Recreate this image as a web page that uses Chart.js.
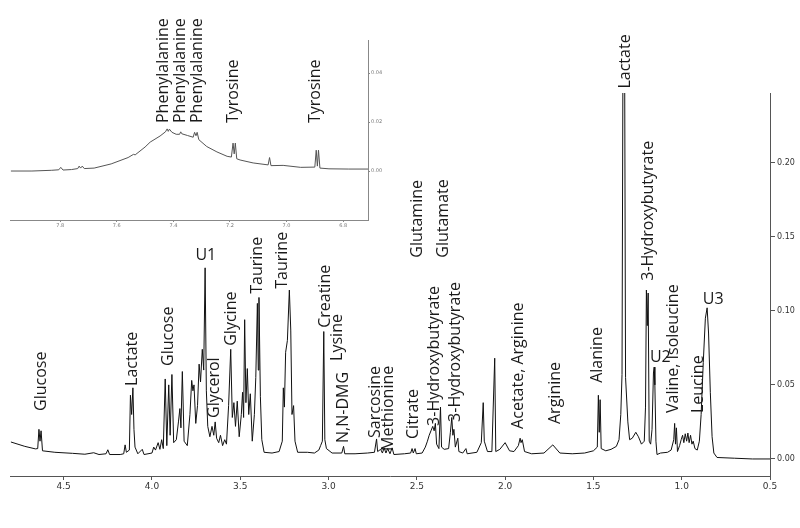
<!DOCTYPE html>
<html>
<head>
<meta charset="utf-8">
<script src="https://cdn.jsdelivr.net/npm/chart.js@4.4.0/dist/chart.umd.min.js"></script>
<style>
  body { margin: 0; background: #fff; }
  #wrap { position: relative; width: 800px; height: 528px; }
  #mainChart { position: absolute; left: 0; top: 0; }
  #insetChart { position: absolute; left: 0; top: 0; }
</style>
</head>
<body>
<div id="wrap">
  <canvas id="mainChart" width="800" height="528"></canvas>
  <canvas id="insetChart" width="390" height="240"></canvas>
</div>
<script>
//DATA - main spectrum (chemical shift ppm / intensity)
var mainShift = [
  4.80, 4.72, 4.66, 4.647, 4.640, 4.634, 4.628, 4.620, 4.55, 4.45, 4.38, 4.33, 4.30, 4.26, 4.25, 4.24,
  4.18, 4.16, 4.152, 4.145, 4.128, 4.122, 4.115, 4.108, 4.102, 4.096, 4.08, 4.055, 4.045, 4.00, 3.99, 3.98,
  3.965, 3.955, 3.945, 3.936, 3.925, 3.916, 3.905, 3.897, 3.887, 3.877, 3.862, 3.850, 3.842, 3.836, 3.828, 3.818,
  3.800, 3.785, 3.775, 3.768, 3.762, 3.752, 3.742, 3.733, 3.725, 3.715, 3.707, 3.699, 3.692, 3.684, 3.672, 3.660,
  3.650, 3.642, 3.634, 3.622, 3.612, 3.600, 3.588, 3.578, 3.566, 3.554, 3.545, 3.536, 3.527, 3.517, 3.506, 3.494,
  3.487, 3.481, 3.475, 3.468, 3.460, 3.452, 3.443, 3.432, 3.420, 3.412, 3.403, 3.398, 3.394, 3.386, 3.378, 3.365,
  3.32, 3.28, 3.262, 3.256, 3.250, 3.243, 3.233, 3.222, 3.214, 3.207, 3.198, 3.190, 3.175, 3.12, 3.08, 3.055,
  3.045, 3.035, 3.027, 3.021, 3.012, 2.98, 2.925, 2.915, 2.908, 2.85, 2.78, 2.74, 2.728, 2.722, 2.705, 2.695,
  2.685, 2.675, 2.665, 2.652, 2.640, 2.630, 2.57, 2.535, 2.527, 2.520, 2.510, 2.503, 2.47, 2.452, 2.440, 2.430,
  2.420, 2.410, 2.402, 2.395, 2.388, 2.375, 2.366, 2.360, 2.345, 2.320, 2.310, 2.302, 2.296, 2.290, 2.282, 2.268,
  2.262, 2.24, 2.222, 2.215, 2.16, 2.135, 2.124, 2.118, 2.10, 2.075, 2.059, 2.053, 2.03, 2.00, 1.975, 1.95,
  1.925, 1.915, 1.910, 1.903, 1.890, 1.85, 1.78, 1.73, 1.69, 1.62, 1.55, 1.50, 1.478, 1.472, 1.467, 1.462,
  1.456, 1.43, 1.40, 1.37, 1.355, 1.345, 1.338, 1.332, 1.328, 1.324, 1.318, 1.305, 1.295, 1.280, 1.260, 1.245,
  1.228, 1.212, 1.205, 1.200, 1.195, 1.190, 1.184, 1.176, 1.168, 1.160, 1.156, 1.152, 1.146, 1.140, 1.12, 1.08,
  1.06, 1.045, 1.040, 1.035, 1.030, 1.024, 1.012, 1.003, 0.995, 0.988, 0.980, 0.972, 0.965, 0.958, 0.950, 0.942,
  0.935, 0.925, 0.912, 0.900, 0.890, 0.878, 0.866, 0.856, 0.848, 0.838, 0.828, 0.818, 0.80, 0.70, 0.60, 0.50
];
var mainIntensity = [
  0.0115, 0.0085, 0.0068, 0.0070, 0.020, 0.012, 0.019, 0.0055, 0.0045, 0.0038, 0.0032, 0.0042, 0.0030, 0.0035, 0.0062, 0.0030,
  0.0030, 0.0035, 0.0095, 0.0045, 0.0060, 0.043, 0.030, 0.048, 0.020, 0.0080, 0.0035, 0.0065, 0.0030, 0.0040, 0.0080, 0.0060,
  0.011, 0.0065, 0.013, 0.0070, 0.054, 0.0090, 0.050, 0.016, 0.057, 0.011, 0.013, 0.025, 0.034, 0.021, 0.059, 0.012,
  0.0090, 0.030, 0.053, 0.046, 0.050, 0.024, 0.036, 0.064, 0.052, 0.074, 0.060, 0.129, 0.046, 0.022, 0.015, 0.022,
  0.016, 0.025, 0.014, 0.011, 0.016, 0.0090, 0.013, 0.010, 0.036, 0.074, 0.028, 0.038, 0.022, 0.039, 0.015, 0.030,
  0.045, 0.028, 0.094, 0.038, 0.061, 0.030, 0.044, 0.012, 0.030, 0.055, 0.105, 0.060, 0.109, 0.042, 0.013, 0.0045,
  0.0040, 0.0050, 0.012, 0.048, 0.035, 0.072, 0.080, 0.114, 0.087, 0.030, 0.036, 0.012, 0.0045, 0.0045, 0.0040, 0.0060,
  0.0090, 0.012, 0.086, 0.013, 0.0070, 0.0040, 0.0040, 0.0085, 0.0035, 0.0035, 0.0040, 0.0045, 0.0135, 0.0050, 0.0065, 0.0040,
  0.0075, 0.0040, 0.0070, 0.0035, 0.0075, 0.0030, 0.0035, 0.0040, 0.0070, 0.0040, 0.0070, 0.0035, 0.0040, 0.0080, 0.012, 0.016,
  0.019, 0.022, 0.019, 0.024, 0.010, 0.0070, 0.035, 0.0080, 0.0065, 0.0070, 0.018, 0.028, 0.016, 0.020, 0.0080, 0.014,
  0.0050, 0.0040, 0.0070, 0.0035, 0.0045, 0.011, 0.038, 0.012, 0.0050, 0.0050, 0.068, 0.0050, 0.0065, 0.011, 0.0055, 0.0050,
  0.0090, 0.014, 0.011, 0.013, 0.0050, 0.0035, 0.0040, 0.0095, 0.0040, 0.0035, 0.0040, 0.0055, 0.0080, 0.043, 0.018, 0.040,
  0.0070, 0.0055, 0.0065, 0.0085, 0.013, 0.030, 0.057, 0.30, 0.26, 0.30, 0.055, 0.025, 0.013, 0.014, 0.018, 0.015,
  0.010, 0.012, 0.035, 0.114, 0.090, 0.112, 0.012, 0.010, 0.020, 0.058, 0.062, 0.050, 0.012, 0.0030, 0.0040, 0.0045,
  0.0060, 0.013, 0.024, 0.010, 0.021, 0.0050, 0.0090, 0.013, 0.016, 0.011, 0.017, 0.012, 0.0175, 0.011, 0.016, 0.010,
  0.012, 0.0070, 0.0060, 0.012, 0.030, 0.065, 0.095, 0.102, 0.085, 0.045, 0.015, 0.0040, 0.0010, 0.0005, 0.0, 0.0
];

//DATA - aromatic inset
var insetShift = [
  7.975, 7.90, 7.83, 7.805, 7.798, 7.790, 7.76, 7.738, 7.733, 7.728, 7.722, 7.715, 7.68, 7.62, 7.56, 7.541,
  7.535, 7.50, 7.482, 7.447, 7.428, 7.422, 7.418, 7.414, 7.405, 7.39, 7.378, 7.374, 7.370, 7.35, 7.330, 7.325,
  7.320, 7.316, 7.310, 7.282, 7.246, 7.21, 7.195, 7.189, 7.185, 7.181, 7.176, 7.164, 7.118, 7.065, 7.060, 7.055,
  7.012, 6.95, 6.900, 6.895, 6.891, 6.887, 6.882, 6.85, 6.78, 6.712
];
var insetIntensity = [
  0.0, 0.0, 0.0003, 0.0005, 0.0015, 0.0004, 0.0006, 0.0010, 0.0020, 0.0012, 0.0020, 0.0010, 0.0012, 0.0029, 0.0055, 0.0068,
  0.0066, 0.0098, 0.0118, 0.0143, 0.0160, 0.0172, 0.0162, 0.0171, 0.0158, 0.0150, 0.0150, 0.0160, 0.0152, 0.0145, 0.0138, 0.0158,
  0.0144, 0.0158, 0.0128, 0.0100, 0.0078, 0.0060, 0.0057, 0.0114, 0.0070, 0.0114, 0.0050, 0.0045, 0.0033, 0.0025, 0.0055, 0.0022,
  0.0023, 0.0015, 0.0016, 0.0085, 0.0020, 0.0085, 0.0012, 0.0009, 0.0008, 0.0008
];

//TICKS
var mainXTicks = [4.5, 4.0, 3.5, 3.0, 2.5, 2.0, 1.5, 1.0, 0.5];
var mainYTicks = [0.00, 0.05, 0.10, 0.15, 0.20];
var insetXTicks = [7.8, 7.6, 7.4, 7.2, 7.0, 6.8];
var insetYTicks = [0.00, 0.02, 0.04];

//ANNOTATIONS - metabolite names, shift and intensity where the text starts
var mainLabelText = [
  "Glucose", "Lactate", "Glucose", "U1", "Glycerol", "Glycine", "Taurine", "Taurine", "Creatine",
  "N,N-DMG", "Lysine", "Sarcosine", "Methionine", "Citrate", "3-Hydroxybutyrate", "Glutamine",
  "3-Hydroxybutyrate", "Glutamate", "Acetate, Arginine", "Arginine", "Alanine", "Lactate",
  "3-Hydroxybutyrate", "U2", "Valine, Isoleucine", "Leucine", "U3"
];
var mainLabelShift = [
  4.628, 4.108, 3.904, 3.695, 3.644, 3.548, 3.401, 3.26, 3.016,
  2.915, 2.949, 2.734, 2.66, 2.519, 2.40, 2.496,
  2.281, 2.349, 1.924, 1.715, 1.478, 1.32,
  1.19, 1.121, 1.048, 0.906, 0.822
];
var mainLabelHeight = [
  0.0324, 0.0493, 0.0628, 0.132, 0.0277, 0.0764, 0.1115, 0.1149, 0.0885,
  0.0108, 0.0662, 0.0142, 0.0054, 0.0135, 0.0223, 0.1358,
  0.025, 0.1358, 0.0203, 0.0236, 0.0514, 0.25,
  0.1203, 0.0628, 0.031, 0.031, 0.102
];
var mainLabelFlat = ["U1", "U2", "U3"]; // these are written horizontally

var insetLabelText = ["Phenylalanine", "Phenylalanine", "Phenylalanine", "Tyrosine", "Tyrosine"];
var insetLabelShift = [7.436, 7.376, 7.316, 7.189, 6.899];
var insetLabelHeight = [0.0196, 0.0196, 0.0196, 0.0196, 0.0196];

function toPoints(xs, ys) {
  return xs.map(function (x, i) { return { x: x, y: ys[i] }; });
}

// draws the rotated metabolite names
function labelPlugin(texts, shifts, heights) {
  return {
    id: "peakLabels",
    afterDatasetsDraw: function (chart) {
      var ctx = chart.ctx;
      var xs = chart.scales.x;
      var ys = chart.scales.y;
      ctx.save();
      ctx.fillStyle = "#1a1a1a";
      ctx.font = "16px 'Open Sans'";
      for (var i = 0; i < texts.length; i++) {
        var px = xs.getPixelForValue(shifts[i]);
        var py = ys.getPixelForValue(heights[i]);
        if (mainLabelFlat.indexOf(texts[i]) >= 0) {
          ctx.textAlign = "center";
          ctx.textBaseline = "bottom";
          ctx.fillText(texts[i], px, py);
        } else {
          ctx.save();
          ctx.translate(px, py);
          ctx.rotate(-Math.PI / 2);
          ctx.textAlign = "left";
          ctx.textBaseline = "middle";
          ctx.fillText(texts[i], 0, 0);
          ctx.restore();
        }
      }
      ctx.restore();
    }
  };
}

function fixedTicks(list) {
  return function (scale) {
    scale.ticks = list.map(function (v) { return { value: v }; });
  };
}

function renderMain() {
  var config = {
    type: "line",
    data: {
      datasets: [{
        data: toPoints(mainShift, mainIntensity),
        borderColor: "#111",
        borderWidth: 1,
        pointRadius: 0,
        tension: 0
      }]
    },
    options: {
      responsive: false,
      animation: false,
      devicePixelRatio: 1,
      layout: { padding: { left: 10.7, top: 93, right: 0, bottom: 0 } },
      plugins: { legend: { display: false }, tooltip: { enabled: false } },
      scales: {
        x: {
          type: "linear",
          reverse: true,
          min: 0.5,
          max: 4.8,
          afterBuildTicks: fixedTicks(mainXTicks),
          afterFit: function (scale) { scale.height = 52; },
          border: { display: true, color: "#555", width: 1 },
          grid: { drawOnChartArea: false, tickLength: 4, color: "#555" },
          ticks: {
            color: "#333",
            padding: 1,
            maxRotation: 0,
            font: { family: "'DejaVu Sans'", size: 9 },
            callback: function (v) { return v.toFixed(1); }
          }
        },
        y: {
          type: "linear",
          position: "right",
          min: -0.0115,
          max: 0.247,
          afterBuildTicks: fixedTicks(mainYTicks),
          afterFit: function (scale) { scale.width = 30; },
          border: { display: true, color: "#555", width: 1 },
          grid: { drawOnChartArea: false, tickLength: 5, color: "#555" },
          ticks: {
            color: "#333",
            padding: 2,
            font: { family: "'DejaVu Sans'", size: 8 },
            callback: function (v) { return v.toFixed(2); }
          }
        }
      }
    },
    plugins: [labelPlugin(mainLabelText, mainLabelShift, mainLabelHeight)]
  };
  new Chart(document.getElementById("mainChart"), config);
}

function renderInset() {
  var config = {
    type: "line",
    data: {
      datasets: [{
        data: toPoints(insetShift, insetIntensity),
        borderColor: "#555",
        borderWidth: 1,
        pointRadius: 0,
        tension: 0
      }]
    },
    options: {
      responsive: false,
      animation: false,
      devicePixelRatio: 1,
      layout: { padding: { left: 10.7, top: 40, right: 0, bottom: 0 } },
      plugins: { legend: { display: false }, tooltip: { enabled: false } },
      scales: {
        x: {
          type: "linear",
          reverse: true,
          min: 6.712,
          max: 7.975,
          afterBuildTicks: fixedTicks(insetXTicks),
          afterFit: function (scale) { scale.height = 20; },
          border: { display: true, color: "#888", width: 1 },
          grid: { drawOnChartArea: false, tickLength: 2, color: "#888" },
          ticks: {
            color: "#777",
            padding: 1,
            maxRotation: 0,
            font: { family: "'DejaVu Sans'", size: 5 },
            callback: function (v) { return v.toFixed(1); }
          }
        },
        y: {
          type: "linear",
          position: "right",
          min: -0.020,
          max: 0.0535,
          afterBuildTicks: fixedTicks(insetYTicks),
          afterFit: function (scale) { scale.width = 22; },
          border: { display: true, color: "#888", width: 1 },
          grid: { drawOnChartArea: false, tickLength: 2, color: "#888" },
          ticks: {
            color: "#777",
            padding: 1,
            font: { family: "'DejaVu Sans'", size: 5 },
            callback: function (v) { return v.toFixed(2); }
          }
        }
      }
    },
    plugins: [labelPlugin(insetLabelText, insetLabelShift, insetLabelHeight)]
  };
  new Chart(document.getElementById("insetChart"), config);
}

renderMain();
renderInset();
</script>
</body>
</html>
